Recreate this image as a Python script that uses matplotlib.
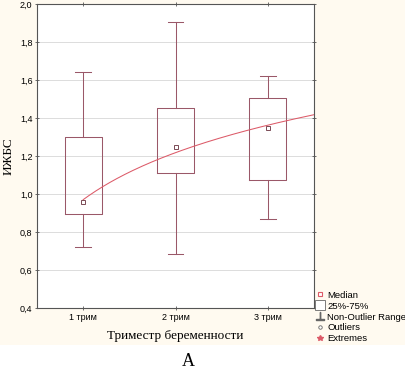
import numpy as np
import matplotlib
matplotlib.use("Agg")
import matplotlib.pyplot as plt
from matplotlib.lines import Line2D
from matplotlib.patches import Rectangle

# data
groups = ["1 трим", "2 трим", "3 трим"]
medians = [0.96, 1.245, 1.345]
q1 = [0.895, 1.11, 1.075]
q3 = [1.30, 1.455, 1.505]
whis_lo = [0.72, 0.685, 0.868]
whis_hi = [1.642, 1.903, 1.62]
yticks = [0.4, 0.6, 0.8, 1.0, 1.2, 1.4, 1.6, 1.8, 2.0]

box_col = "#9a5868"
fit_col = "#dc5a68"

fig = plt.figure(figsize=(4.05, 3.73), dpi=100)
fig.patch.set_facecolor("white")
# cream backdrop behind the chart area
fig.patches.append(Rectangle((0, 1 - 345 / 373), 1, 345 / 373, transform=fig.transFigure,
                             facecolor="#fffaf0", edgecolor="none", zorder=-10))

ax = fig.add_axes([37 / 405, 1 - 308 / 373, 277 / 405, 304 / 373])
ax.set_facecolor("white")

pos = np.arange(1, len(groups) + 1)
stats = []
for i in range(len(groups)):
    stats.append(dict(med=medians[i], q1=q1[i], q3=q3[i],
                      whislo=whis_lo[i], whishi=whis_hi[i], fliers=[]))

ax.bxp(stats, positions=pos, widths=0.4, capwidths=0.17, showfliers=False,
       boxprops=dict(color=box_col, linewidth=0.75),
       whiskerprops=dict(color=box_col, linewidth=0.75),
       capprops=dict(color=box_col, linewidth=0.75),
       medianprops=dict(linewidth=0))

ax.plot(pos, medians, linestyle="none", marker="s", markersize=3.5,
        markerfacecolor="white", markeredgecolor="#7a4a55", markeredgewidth=0.7, zorder=5)

# logarithmic fit through the medians
b, a = np.polyfit(np.log(pos), medians, 1)
xs = np.linspace(1, 3.5, 200)
ax.plot(xs, a + b * np.log(xs), color=fit_col, linewidth=0.75, zorder=4)

ax.set_xlim(0.5, 3.5)
ax.set_ylim(0.4, 2.0)
ax.set_xticks(pos)
ax.set_xticklabels(groups, family="Liberation Sans", fontsize=6.5)
ax.set_yticks(yticks)
ax.set_yticklabels([f"{v:.1f}".replace(".", ",") for v in yticks],
                   family="Liberation Sans", fontsize=6.5)
ax.yaxis.grid(True, color="#dcdcdc", linewidth=0.7)
ax.set_axisbelow(True)
ax.tick_params(axis="both", length=2.5, width=0.6, color="#555555", top=True, right=True,
               direction="inout", pad=2)
for s in ax.spines.values():
    s.set_color("#555555")
    s.set_linewidth(0.8)

ax.set_ylabel("ИЖБС", family="Liberation Serif", fontsize=9.5, labelpad=4)
ax.set_xlabel("Триместр беременности", family="Liberation Serif", fontsize=9.5, labelpad=6)

fig.text(188 / 405, 1 - 362 / 373, "A", family="Liberation Serif", fontsize=13,
         ha="center", va="center")

handles = [
    Line2D([], [], linestyle="none", marker="s", markersize=3.5, markerfacecolor="white",
           markeredgecolor=fit_col, markeredgewidth=0.8),
    Line2D([], [], linestyle="none", marker="s", markersize=7, markerfacecolor="white",
           markeredgecolor="#666666", markeredgewidth=0.6),
    Line2D([], [], linestyle="none", marker=r"$\perp$", markersize=6, color="#666666"),
    Line2D([], [], linestyle="none", marker="o", markersize=2.5, markerfacecolor="white",
           markeredgecolor="#666666", markeredgewidth=0.6),
    Line2D([], [], linestyle="none", marker="*", markersize=4, color=fit_col),
]
labels = ["Median", "25%-75%", "Non-Outlier Range", "Outliers", "Extremes"]
fig.legend(handles, labels, loc="upper left", bbox_to_anchor=(311 / 405, 1 - 286 / 373),
           frameon=False, prop=dict(family="Liberation Sans", size=6.8),
           handlelength=0.8, handletextpad=0.4, labelspacing=0.2, borderpad=0)

fig.savefig("out.png", dpi=100)
